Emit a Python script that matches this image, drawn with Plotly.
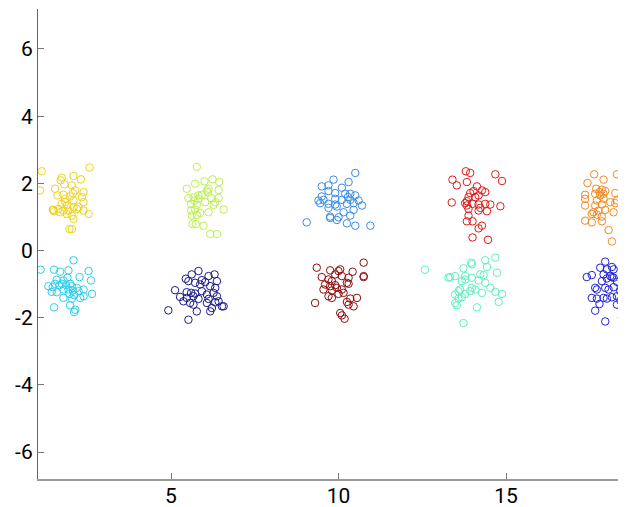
import plotly.graph_objects as go

# cluster points (x, y)
yellow = [(1.14, 2.36), (2.57, 2.47), (1.09, 1.79), (1.74, 2.17), (1.71, 2.09), (2.09, 2.22), (2.31, 2.12),
          (1.54, 1.84), (1.82, 1.97), (2.04, 1.94), (2.14, 1.79), (2.07, 1.71), (2.39, 1.74), (1.61, 1.64),
          (1.79, 1.66), (1.99, 1.61), (1.84, 1.44), (2.09, 1.49), (2.34, 1.59), (2.39, 1.44), (1.74, 1.39),
          (1.89, 1.34), (2.09, 1.29), (2.19, 1.24), (1.47, 1.21), (1.51, 1.17), (1.64, 1.24), (1.79, 1.19),
          (1.94, 1.19), (2.39, 1.19), (2.54, 1.09), (1.89, 1.09), (2.04, 1.04), (2.09, 0.94), (1.97, 0.64),
          (2.04, 0.64), (2.24, 1.29), (1.84, 1.54), (1.49, 1.21), (1.69, 1.14)]
cyan = [(2.09, -0.29), (1.11, -0.57), (1.51, -0.57), (1.69, -0.63), (1.94, -0.59), (2.54, -0.61), (1.59, -0.87),
        (1.79, -0.89), (1.91, -0.81), (2.27, -0.79), (2.61, -0.89), (1.34, -1.06), (1.47, -1.09), (1.67, -1.03),
        (1.74, -0.99), (1.99, -0.99), (2.04, -1.06), (2.19, -1.11), (2.39, -1.16), (1.44, -1.23), (1.59, -1.24),
        (1.79, -1.16), (1.94, -1.16), (2.07, -1.19), (1.97, -1.29), (2.11, -1.33), (2.24, -1.21), (2.64, -1.29),
        (2.29, -1.41), (2.39, -1.36), (2.04, -1.43), (1.79, -1.41), (1.51, -1.69), (1.99, -1.63), (2.14, -1.76),
        (2.11, -1.83), (1.54, -0.99), (1.87, -1.03)]
lime = [(5.77, 2.49), (5.47, 1.84), (5.72, 1.99), (6.0, 2.06), (6.24, 2.12), (6.44, 2.04), (6.12, 1.84),
        (6.07, 1.79), (6.42, 1.80), (5.52, 1.56), (5.67, 1.59), (5.82, 1.64), (5.92, 1.66), (6.10, 1.74),
        (6.20, 1.56), (6.42, 1.56), (5.60, 1.39), (5.77, 1.36), (6.02, 1.44), (6.27, 1.36), (6.57, 1.22),
        (5.60, 1.19), (5.72, 1.22), (5.87, 1.12), (6.12, 1.14), (5.62, 1.04), (5.77, 1.06), (5.64, 0.79),
        (5.74, 0.79), (5.97, 0.74), (6.17, 0.49), (6.37, 0.49), (6.32, 1.44), (5.82, 1.54), (5.70, 1.49)]
navy = [(5.82, -0.61), (5.62, -0.71), (5.44, -0.84), (5.52, -0.91), (5.92, -0.88), (6.12, -0.76), (6.30, -0.71),
        (6.37, -0.91), (5.72, -0.96), (5.87, -1.01), (6.02, -0.94), (6.17, -1.06), (6.32, -1.11), (5.12, -1.18),
        (5.47, -1.24), (5.60, -1.26), (5.72, -1.28), (5.92, -1.21), (6.07, -1.31), (6.27, -1.26), (5.27, -1.38),
        (5.47, -1.41), (5.67, -1.36), (5.82, -1.44), (6.12, -1.44), (6.37, -1.36), (5.37, -1.51), (5.57, -1.56),
        (6.07, -1.56), (6.32, -1.54), (6.42, -1.51), (6.52, -1.66), (5.67, -1.61), (5.77, -1.81), (6.22, -1.71),
        (6.17, -1.81), (4.92, -1.78), (5.52, -2.06), (6.57, -1.66)]
blue = [(10.5, 2.31), (9.85, 2.11), (10.3, 2.04), (9.5, 1.91), (9.7, 1.94), (10.1, 1.87), (9.7, 1.77),
        (9.9, 1.71), (10.2, 1.69), (10.35, 1.69), (10.5, 1.64), (9.5, 1.61), (9.4, 1.49), (9.45, 1.41),
        (9.9, 1.54), (10.1, 1.51), (10.35, 1.51), (10.6, 1.49), (9.7, 1.39), (9.9, 1.37), (10.25, 1.39),
        (10.45, 1.41), (10.7, 1.34), (9.7, 1.27), (9.95, 1.31), (10.45, 1.21), (10.15, 1.14), (10.35, 1.04),
        (10.0, 0.99), (9.75, 0.97), (9.95, 0.91), (10.25, 0.81), (10.5, 0.74), (10.95, 0.74), (9.05, 0.84),
        (9.75, 1.01), (9.55, 1.51), (10.28, 1.59)]
maroon = [(9.35, -0.51), (10.75, -0.36), (9.75, -0.59), (10.0, -0.61), (10.05, -0.56), (10.42, -0.63), (9.5, -0.79),
          (9.7, -0.86), (9.8, -0.91), (10.1, -0.76), (10.3, -0.81), (10.75, -0.76), (10.75, -0.79), (9.6, -1.01),
          (9.75, -1.06), (9.9, -1.03), (10.25, -0.96), (10.3, -0.99), (9.55, -1.16), (9.8, -1.19), (9.95, -1.11),
          (10.1, -1.16), (10.0, -1.29), (10.15, -1.26), (9.7, -1.36), (9.8, -1.41), (10.35, -1.43), (10.55, -1.41),
          (9.3, -1.56), (10.25, -1.53), (10.3, -1.61), (10.45, -1.66), (10.05, -1.86), (10.1, -1.93), (10.18, -2.03),
          (9.9, -0.71)]
red = [(13.8, 2.36), (13.93, 2.31), (14.68, 2.27), (13.4, 2.11), (14.88, 2.07), (13.53, 1.94), (13.83, 2.04),
       (14.13, 1.91), (14.03, 1.77), (14.28, 1.79), (14.38, 1.74), (13.93, 1.71), (14.18, 1.64), (13.88, 1.59),
       (13.38, 1.43), (13.83, 1.47), (13.78, 1.41), (14.0, 1.39), (14.18, 1.37), (14.38, 1.39), (14.53, 1.37),
       (14.83, 1.32), (13.88, 1.24), (14.23, 1.27), (14.18, 1.19), (14.43, 1.17), (13.88, 1.04), (13.83, 0.87),
       (14.0, 0.87), (14.28, 0.74), (14.18, 0.66), (14.0, 0.39), (14.46, 0.32), (13.83, 1.34), (14.08, 1.59)]
aqua = [(12.58, -0.57), (14.68, -0.21), (14.38, -0.29), (13.96, -0.36), (13.98, -0.41), (14.43, -0.49),
        (13.73, -0.53), (14.73, -0.66), (13.33, -0.79), (13.48, -0.76), (13.78, -0.76), (13.98, -0.81),
        (14.23, -0.71), (14.33, -0.73), (13.68, -0.91), (13.78, -0.86), (14.18, -0.89), (14.38, -0.96),
        (13.63, -1.16), (13.58, -1.21), (13.98, -1.11), (14.08, -1.16), (13.93, -1.21), (14.68, -1.23),
        (14.88, -1.29), (13.48, -1.31), (13.68, -1.39), (13.78, -1.29), (14.28, -1.26), (13.58, -1.43),
        (13.48, -1.56), (13.53, -1.63), (14.78, -1.53), (14.13, -1.69), (13.73, -2.16), (13.28, -0.81),
        (14.53, -1.11)]
orange = [(17.63, 2.27), (18.31, 2.27), (18.46, 2.21), (17.43, 2.01), (17.91, 2.11), (17.69, 1.84), (17.86, 1.81),
          (17.96, 1.77), (18.26, 1.71), (18.51, 1.81), (17.36, 1.66), (17.66, 1.69), (17.81, 1.64), (18.46, 1.67),
          (17.36, 1.54), (17.71, 1.49), (17.91, 1.54), (18.11, 1.44), (18.31, 1.49), (18.46, 1.54), (17.36, 1.34),
          (17.66, 1.34), (17.86, 1.37), (18.26, 1.41), (17.61, 1.14), (17.76, 1.19), (17.96, 1.21), (18.21, 1.14),
          (17.56, 1.09), (17.71, 1.07), (17.86, 1.01), (17.36, 0.89), (17.56, 0.84), (17.86, 0.87), (18.06, 0.61),
          (18.16, 0.27), (17.91, 1.69), (17.79, 1.74), (18.62, 2.21), (18.63, 1.84), (18.62, 1.54)]
darkblue = [(18.51, -0.23), (17.96, -0.33), (18.16, -0.49), (17.81, -0.51), (18.01, -0.56), (18.21, -0.56),
            (17.56, -0.73), (17.41, -0.79), (17.91, -0.71), (18.11, -0.76), (18.51, -0.61), (18.01, -0.83),
            (18.16, -0.79), (18.21, -0.81), (18.31, -0.93), (18.46, -0.89), (17.66, -1.11), (17.71, -1.16),
            (17.96, -1.11), (18.06, -1.16), (18.21, -1.09), (18.41, -1.21), (18.51, -1.16), (17.56, -1.41),
            (17.71, -1.43), (17.91, -1.41), (18.16, -1.39), (18.31, -1.36), (18.51, -1.31), (18.41, -1.49),
            (17.79, -1.59), (18.01, -1.43), (18.31, -1.61), (18.46, -1.71), (17.66, -1.79), (17.96, -2.11),
            (18.46, -1.99), (17.86, -0.91), (18.63, -0.23), (18.62, -0.61), (18.63, -0.91), (18.62, -1.21),
            (18.63, -1.51), (18.62, -2.31)]

xticks = [5, 10, 15]
yticks = [-6, -4, -2, 0, 2, 4, 6]
ylabels = ['-6', '-4', '-2', '0', '2', '4', '6']

clusters = [(navy, '#1c1c8a'), (darkblue, '#2323d6'), (blue, '#3a8de0'), (cyan, '#2ccdee'), (aqua, '#5ef0c2'),
            (lime, '#bdf04c'), (yellow, '#f2d21e'), (orange, '#f08a22'), (red, '#dc1c1c'), (maroon, '#8c0e0e')]

fig = go.Figure()
for pts, col in clusters:
    fig.add_trace(go.Scatter(x=[p[0] for p in pts], y=[p[1] for p in pts], mode='markers',
                             marker=dict(symbol='circle-open', size=7.5, color=col, line=dict(width=1, color=col)),
                             showlegend=False))

# page body adds 8px margin, so the figure is a bit smaller than the window
fig.update_layout(width=618, height=499, plot_bgcolor='white', paper_bgcolor='white',
                  margin=dict(l=30, r=0, t=1, b=28),
                  font=dict(family='Roboto', size=21, color='black'))
fig.update_xaxes(range=[1.03, 18.58], tickvals=xticks, showgrid=False, zeroline=False,
                 showline=True, linecolor='#9a9a9a', linewidth=1.5, ticks='inside', ticklen=6,
                 tickcolor='#777777', ticklabelstandoff=-3, automargin=False)
fig.update_yaxes(range=[-6.8, 7.19], tickvals=yticks, ticktext=ylabels, showgrid=False, zeroline=False,
                 showline=True, linecolor='#666666', linewidth=1.2, ticks='inside', ticklen=6,
                 tickcolor='#777777', automargin=False)

fig.write_html("out.html")
